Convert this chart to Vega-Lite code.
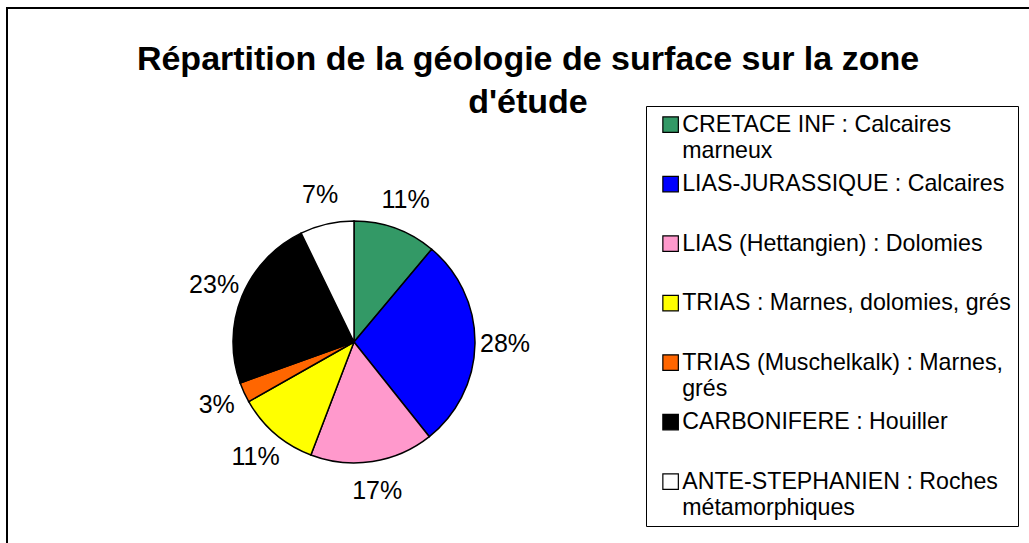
{
  "$schema": "https://vega.github.io/schema/vega-lite/v6.json",
  "width": 1040,
  "height": 560,
  "autosize": {"type": "none"},
  "padding": {"left": 7, "top": 8, "right": 0, "bottom": 0},
  "background": "white",
  "config": {
    "view": {"stroke": "black", "strokeWidth": 2},
    "font": "Liberation Sans"
  },
  "title": {
    "text": ["Répartition de la géologie de surface sur la zone ", "d'étude"],
    "font": "Liberation Sans",
    "fontSize": 34,
    "fontWeight": "bold",
    "color": "black",
    "lineHeight": 43,
    "anchor": "middle",
    "baseline": "alphabetic",
    "offset": -139,
    "dx": 1
  },
  "data": {
    "values": [
      {"categorie": "CRETACE INF : Calcaires marneux", "part": 11.1, "etiquette": "11%", "ordre": 1},
      {"categorie": "LIAS-JURASSIQUE : Calcaires", "part": 28.2, "etiquette": "28%", "ordre": 2},
      {"categorie": "LIAS (Hettangien) : Dolomies", "part": 16.5, "etiquette": "17%", "ordre": 3},
      {"categorie": "TRIAS : Marnes, dolomies, grés", "part": 11.0, "etiquette": "11%", "ordre": 4},
      {"categorie": "TRIAS (Muschelkalk) : Marnes, grés", "part": 2.7, "etiquette": "3%", "ordre": 5},
      {"categorie": "CARBONIFERE : Houiller", "part": 23.3, "etiquette": "23%", "ordre": 6},
      {"categorie": "ANTE-STEPHANIEN : Roches métamorphiques", "part": 7.2, "etiquette": "7%", "ordre": 7}
    ]
  },
  "layer": [
    {
      "mark": {"type": "arc", "outerRadius": 121, "stroke": "black", "strokeWidth": 1.5},
      "encoding": {
        "x": {"value": 347},
        "y": {"value": 334},
        "theta": {"field": "part", "type": "quantitative", "stack": true},
        "order": {"field": "ordre", "type": "quantitative"},
        "color": {
          "field": "categorie",
          "type": "nominal",
          "sort": null,
          "scale": {
            "domain": [
              "CRETACE INF : Calcaires marneux",
              "LIAS-JURASSIQUE : Calcaires",
              "LIAS (Hettangien) : Dolomies",
              "TRIAS : Marnes, dolomies, grés",
              "TRIAS (Muschelkalk) : Marnes, grés",
              "CARBONIFERE : Houiller",
              "ANTE-STEPHANIEN : Roches métamorphiques"
            ],
            "range": ["#339966", "#0000FF", "#FF99CC", "#FFFF00", "#FF6600", "#000000", "#FFFFFF"]
          },
          "legend": {
            "title": null,
            "orient": "none",
            "legendX": 639,
            "legendY": 98,
            "strokeColor": "black",
            "padding": 7,
            "symbolOffset": 6,
            "symbolType": "square",
            "symbolSize": 240,
            "symbolStrokeColor": "black",
            "symbolStrokeWidth": 1.2,
            "symbolOpacity": 1,
            "labelFont": "Liberation Sans",
            "labelFontSize": 23.2,
            "labelColor": "black",
            "labelLimit": 0,
            "labelOffset": 0,
            "rowPadding": 9.5,
            "labelBaseline": "top",
            "labelExpr": "datum.label == 'CRETACE INF : Calcaires marneux' ? ['CRETACE INF : Calcaires', 'marneux'] : datum.label == 'TRIAS (Muschelkalk) : Marnes, grés' ? ['TRIAS (Muschelkalk) : Marnes,', 'grés'] : datum.label == 'ANTE-STEPHANIEN : Roches métamorphiques' ? ['ANTE-STEPHANIEN : Roches', 'métamorphiques'] : [datum.label, ' ']",
            "encode": {
              "labels": {"update": {"lineHeight": {"value": 26}, "dy": {"value": -11}}}
            }
          }
        }
      }
    },
    {
      "mark": {"type": "text", "radius": 151, "font": "Liberation Sans", "fontSize": 25, "color": "black", "align": "center", "baseline": "middle"},
      "encoding": {
        "x": {"value": 347},
        "y": {"value": 334},
        "theta": {"field": "part", "type": "quantitative", "stack": true},
        "order": {"field": "ordre", "type": "quantitative"},
        "text": {"field": "etiquette", "type": "nominal"}
      }
    }
  ]
}
